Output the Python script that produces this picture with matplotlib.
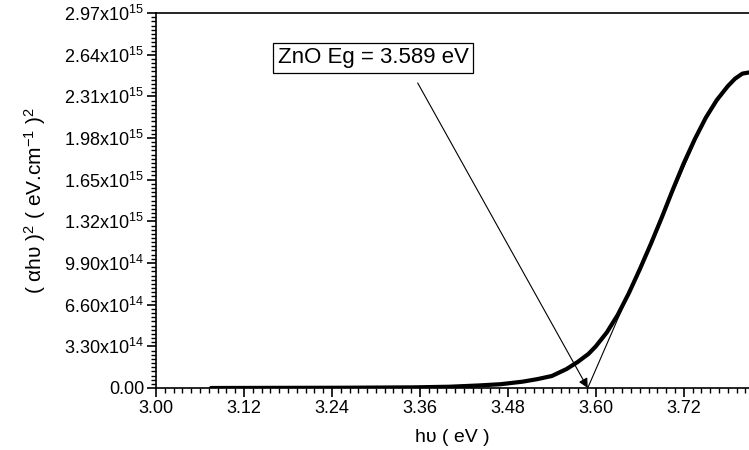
import numpy as np
import matplotlib
matplotlib.use('Agg')
import matplotlib.pyplot as plt
from matplotlib.ticker import FixedLocator, FixedFormatter, MultipleLocator

plt.rcParams['font.family'] = ['Liberation Sans', 'DejaVu Sans']
plt.rcParams['mathtext.fontset'] = 'custom'
plt.rcParams['mathtext.rm'] = 'Liberation Sans'
plt.rcParams['mathtext.it'] = 'Liberation Sans:italic'

# photon energy (eV) and (alpha h nu)^2 in units of 1e15
energy = [3.075, 3.15, 3.25, 3.35, 3.40, 3.44, 3.47, 3.50, 3.52, 3.54,
          3.56, 3.575, 3.59, 3.60, 3.615, 3.63, 3.645, 3.66, 3.675, 3.69,
          3.705, 3.72, 3.735, 3.75, 3.765, 3.78, 3.79, 3.80, 3.81]
ahv2 = [0.0, 0.001, 0.002, 0.005, 0.01, 0.02, 0.03, 0.05, 0.07, 0.095,
        0.15, 0.205, 0.27, 0.33, 0.44, 0.58, 0.75, 0.94, 1.14, 1.35,
        1.57, 1.78, 1.97, 2.14, 2.28, 2.39, 2.45, 2.49, 2.50]

# tangent line used for the band gap
eg = 3.589
tangent_x = [3.589, 3.75]
tangent_y = [0.0, 2.15]

yticks = [0, 0.33, 0.66, 0.99, 1.32, 1.65, 1.98, 2.31, 2.64, 2.97]
ylabels = ['0.00', r'3.30x10$^{14}$', r'6.60x10$^{14}$', r'9.90x10$^{14}$',
           r'1.32x10$^{15}$', r'1.65x10$^{15}$', r'1.98x10$^{15}$',
           r'2.31x10$^{15}$', r'2.64x10$^{15}$', r'2.97x10$^{15}$']
xticks = [3.00, 3.12, 3.24, 3.36, 3.48, 3.60, 3.72]

fig = plt.figure(figsize=(7.49, 4.5), dpi=100)
ax = fig.add_axes([156/749, 1 - 388/450, 1 - 156/749, (388 - 13)/450])

ax.plot(energy, ahv2, color='black', lw=3.0, solid_capstyle='round')
ax.plot(tangent_x, tangent_y, color='black', lw=0.8)

ax.set_xlim(3.0, 3.809)
ax.set_ylim(0, 2.97)

ax.xaxis.set_major_locator(FixedLocator(xticks))
ax.set_xticklabels(['%.2f' % v for v in xticks])
ax.xaxis.set_minor_locator(MultipleLocator(0.012))
ax.yaxis.set_major_locator(FixedLocator(yticks))
ax.yaxis.set_major_formatter(FixedFormatter(ylabels))
ax.yaxis.set_minor_locator(MultipleLocator(0.033))

ax.spines['right'].set_visible(False)
for s in ['left', 'bottom', 'top']:
    ax.spines[s].set_linewidth(1.2)
ax.tick_params(which='major', direction='out', length=6.5, width=1.2, labelsize=13,
               pad=2, top=False, right=False)
ax.tick_params(which='minor', direction='out', length=3.5, width=1.0, top=False, right=False)

ax.set_xlabel('h\u03c5 ( eV )', fontsize=14, labelpad=9)
ax.set_ylabel('( \u03b1h\u03c5 )$^2$ ( eV.cm$^{-1}$ )$^2$', fontsize=15, labelpad=12)

ax.text(3.296, 2.614, 'ZnO Eg = 3.589 eV', fontsize=16, ha='center', va='center',
        bbox=dict(boxstyle='square,pad=0.2', fc='white', ec='black', lw=0.9))
ax.annotate('', xy=(eg, 0.0), xytext=(3.357, 2.416),
            arrowprops=dict(arrowstyle='-|>', lw=0.8, color='black',
                            mutation_scale=14, shrinkA=0, shrinkB=0))

fig.savefig('out.png', dpi=100)
